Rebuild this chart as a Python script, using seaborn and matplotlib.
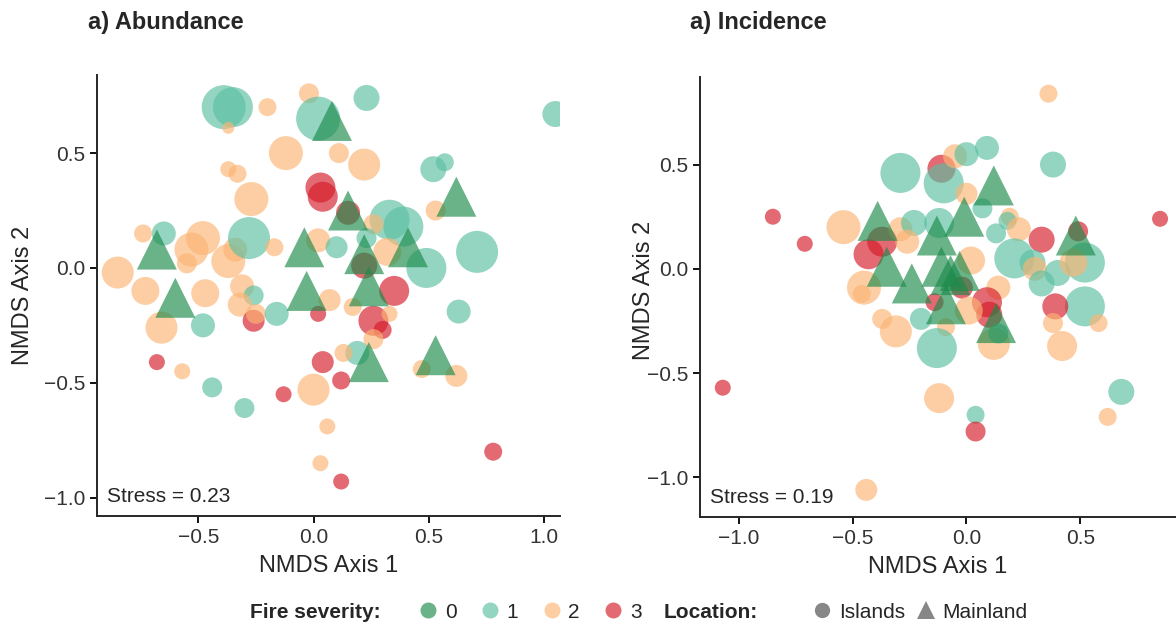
import matplotlib
matplotlib.use("Agg")
import matplotlib.pyplot as plt
import numpy as np
import pandas as pd
import seaborn as sns
from matplotlib.lines import Line2D

# ---------------- Abundance-based NMDS site scores ----------------
abund_x = [-0.39, -0.35, -0.37, -0.02, -0.20, 0.02, 0.23, 1.05, -0.12, 0.11,
           0.22, -0.37, -0.33, -0.27, 0.03, 0.04, 0.15, 0.52, 0.57, 0.53,
           -0.65, -0.74, -0.48, -0.53, -0.55, -0.37, -0.34, -0.28, -0.17, 0.02,
           0.10, 0.33, 0.39, 0.26, 0.23, 0.32, 0.22, 0.49, 0.71, 0.35,
           -0.85, -0.73, -0.47, -0.31, -0.26, -0.32, -0.26, -0.25, -0.66, -0.48,
           -0.16, 0.07, 0.02, 0.26, 0.30, 0.33, 0.17, 0.26, 0.19, 0.13,
           0.12, 0.04, 0.00, 0.63, 0.47, 0.62, 0.78, 0.12, 0.06, 0.03,
           -0.68, -0.57, -0.44, -0.30, -0.13,
           0.08, 0.62, 0.15, -0.68, -0.04, 0.22, 0.41, -0.60, -0.03, 0.24,
           0.24, 0.53]
abund_y = [0.70, 0.70, 0.61, 0.76, 0.70, 0.65, 0.74, 0.67, 0.50, 0.50,
           0.45, 0.43, 0.41, 0.30, 0.35, 0.31, 0.24, 0.43, 0.46, 0.25,
           0.15, 0.15, 0.13, 0.08, 0.02, 0.03, 0.08, 0.13, 0.09, 0.12,
           0.09, 0.21, 0.18, 0.19, 0.13, 0.07, 0.01, 0.00, 0.07, -0.10,
           -0.02, -0.10, -0.11, -0.08, -0.12, -0.16, -0.23, -0.20, -0.26, -0.25,
           -0.20, -0.14, -0.20, -0.23, -0.27, -0.20, -0.17, -0.31, -0.37, -0.37,
           -0.49, -0.41, -0.53, -0.19, -0.44, -0.47, -0.80, -0.93, -0.69, -0.85,
           -0.41, -0.45, -0.52, -0.61, -0.55,
           0.64, 0.31, 0.25, 0.08, 0.09, 0.06, 0.09, -0.13, -0.10, -0.08,
           -0.41, -0.38]
abund_sev = [1, 1, 2, 2, 2, 1, 1, 1, 2, 2,
             2, 2, 2, 2, 3, 3, 3, 1, 1, 2,
             1, 2, 2, 2, 2, 2, 2, 1, 2, 2,
             1, 1, 1, 2, 1, 2, 3, 1, 1, 3,
             2, 2, 2, 2, 1, 2, 3, 2, 2, 1,
             1, 2, 3, 3, 3, 2, 2, 2, 1, 2,
             3, 3, 2, 1, 2, 2, 3, 3, 2, 2,
             3, 2, 1, 1, 3,
             0, 0, 0, 0, 0, 0, 0, 0, 0, 0,
             0, 0]
abund_wt = [22, 20, 6, 10, 9, 22, 13, 13, 17, 10,
            16, 8, 9, 17, 15, 15, 12, 13, 9, 10,
            12, 9, 17, 17, 10, 17, 12, 21, 9, 12,
            11, 20, 20, 10, 10, 14, 13, 20, 21, 15,
            16, 14, 14, 12, 10, 12, 11, 10, 16, 12,
            12, 11, 8, 15, 9, 8, 9, 10, 12, 9,
            9, 11, 16, 12, 9, 11, 9, 8, 8, 8,
            8, 8, 10, 10, 8,
            20, 20, 20, 20, 20, 20, 20, 20, 20, 20,
            20, 20]
abund_loc = ["Islands"] * 75 + ["Mainland"] * 12

# ---------------- Incidence-based NMDS site scores ----------------
incid_x = [0.36, -0.29, -0.11, -0.10, -0.05, 0.00, 0.09, 0.38, -0.85, -0.71,
           -0.54, -0.37, -0.43, -0.29, -0.23, -0.12, -0.26, 0.00, 0.07, 0.19,
           0.18, 0.13, 0.23, 0.33, 0.49, 0.21, 0.29, 0.30, 0.40, 0.52,
           0.47, 0.33, 0.52, 0.39, 0.38, 0.58, 0.42, 0.02, 0.14, 0.09,
           0.10, -0.02, -0.14, 0.01, 0.12, 0.14, -0.09, -0.13, -0.20, -0.37,
           -0.31, -0.45, -0.46, -0.12, 0.04, 0.04, 0.68, 0.62, -1.07, -0.44,
           0.85,
           -0.39, -0.01, 0.12, -0.13, -0.35, -0.24, -0.11, -0.03, -0.07, -0.09,
           0.13, 0.48]
incid_y = [0.84, 0.46, 0.48, 0.41, 0.54, 0.55, 0.58, 0.50, 0.25, 0.12,
           0.20, 0.13, 0.07, 0.19, 0.22, 0.22, 0.13, 0.36, 0.29, 0.25,
           0.23, 0.17, 0.19, 0.14, 0.18, 0.05, 0.03, 0.00, -0.02, 0.03,
           0.03, -0.07, -0.18, -0.18, -0.26, -0.26, -0.37, 0.04, -0.09, -0.16,
           -0.22, -0.09, -0.16, -0.20, -0.36, -0.31, -0.28, -0.38, -0.24, -0.24,
           -0.30, -0.09, -0.12, -0.62, -0.70, -0.78, -0.59, -0.71, -0.57, -1.06,
           0.24,
           0.23, 0.25, 0.40, 0.16, 0.01, -0.07, 0.01, -0.01, -0.03, -0.17,
           -0.26, 0.16]
incid_sev = [2, 1, 3, 1, 2, 1, 1, 1, 3, 3,
             2, 3, 3, 2, 1, 1, 2, 2, 1, 2,
             1, 1, 2, 3, 3, 1, 1, 2, 1, 1,
             2, 1, 1, 3, 2, 2, 2, 2, 2, 3,
             3, 3, 3, 2, 2, 1, 2, 1, 1, 2,
             2, 2, 2, 2, 1, 3, 1, 2, 3, 2,
             3,
             0, 0, 0, 0, 0, 0, 0, 0, 0, 0,
             0, 0]
incid_wt = [9, 20, 14, 20, 12, 12, 12, 13, 8, 8,
            17, 15, 15, 12, 13, 15, 12, 11, 10, 9,
            9, 10, 12, 13, 10, 20, 13, 12, 13, 20,
            14, 13, 20, 13, 10, 9, 15, 14, 12, 15,
            13, 11, 9, 14, 16, 10, 9, 20, 11, 10,
            16, 17, 9, 15, 9, 10, 13, 9, 8, 11,
            8,
            20, 20, 20, 20, 20, 20, 20, 20, 20, 20,
            20, 20]
incid_loc = ["Islands"] * 61 + ["Mainland"] * 12

severity_levels = ["0", "1", "2", "3"]
severity_colors = {"0": "#1b8a4a", "1": "#5bbfa2", "2": "#fcb473", "3": "#d41a28"}
location_markers = {"Islands": "o", "Mainland": "^"}
ALPHA = 0.65

sns.set_theme(style="ticks")
plt.rcParams["font.family"] = ["Liberation Sans", "DejaVu Sans"]
plt.rcParams["axes.linewidth"] = 1.4

fig = plt.figure(figsize=(11.76, 6.33), dpi=100)
W, H = 1176, 633


def px_axes(x0, y0, x1, y1):
    return fig.add_axes([x0 / W, 1 - y1 / H, (x1 - x0) / W, (y1 - y0) / H])


ax1 = px_axes(97, 75, 560, 516)
ax2 = px_axes(700, 77, 1176, 517)


def ordination(ax, x, y, sev, loc, wt, stress, xlim, ylim, xticks, yticks, ylab_xy):
    df = pd.DataFrame({"x": x, "y": y, "sev": [str(s) for s in sev],
                       "loc": loc, "wt": wt})
    sizes = {w: (2 * w * 0.72) ** 2 for w in sorted(set(wt))}
    sns.scatterplot(data=df, x="x", y="y", hue="sev", style="loc", size="wt",
                    palette=severity_colors, hue_order=severity_levels,
                    markers=location_markers, sizes=sizes, alpha=ALPHA,
                    linewidth=0, legend=False, ax=ax)
    ax.set_xlim(*xlim)
    ax.set_ylim(*ylim)
    ax.set_xticks(xticks)
    ax.set_yticks(yticks)
    sns.despine(ax=ax)
    ax.tick_params(axis="both", labelsize=15, length=5, width=1.4,
                   colors="#111111", labelcolor="#333333")
    ax.set_xlabel("NMDS Axis 1", fontsize=17, labelpad=6)
    ax.set_ylabel("NMDS Axis 2", fontsize=17)
    ax.yaxis.set_label_coords(*ylab_xy)
    ax.text(0.022, 0.045, f"Stress = {stress}", transform=ax.transAxes,
            fontsize=15, va="center", ha="left")


ordination(ax1, abund_x, abund_y, abund_sev, abund_loc, abund_wt, "0.23",
           (-0.94, 1.07), (-1.08, 0.84), [-0.5, 0.0, 0.5, 1.0],
           [-1.0, -0.5, 0.0, 0.5], (-0.135, 0.50))
ordination(ax2, incid_x, incid_y, incid_sev, incid_loc, incid_wt, "0.19",
           (-1.17, 0.92), (-1.19, 0.92), [-1.0, -0.5, 0.0, 0.5],
           [-1.0, -0.5, 0.0, 0.5], (-0.094, 0.515))

fig.text(88 / W, 1 - 22 / H, "a) Abundance", fontsize=17, fontweight="bold",
         ha="left", va="center")
fig.text(690 / W, 1 - 22 / H, "a) Incidence", fontsize=17, fontweight="bold",
         ha="left", va="center")

# ---------------- shared legend along the bottom ----------------
ly = 1 - 612 / H
fig.text(250 / W, ly, "Fire severity:", fontsize=15, fontweight="bold",
         ha="left", va="center")
sev_handles = [Line2D([], [], marker="o", linestyle="none", markersize=11.5,
                      markerfacecolor=severity_colors[s], markeredgewidth=0,
                      alpha=ALPHA) for s in severity_levels]
fig.legend(sev_handles, severity_levels, loc="center left",
           bbox_to_anchor=(420 / W, ly), ncol=4, frameon=False,
           fontsize=15, handlelength=0.8, handletextpad=0.4,
           columnspacing=1.2, borderpad=0, borderaxespad=0)
fig.text(664 / W, ly, "Location:", fontsize=15, fontweight="bold",
         ha="left", va="center")
loc_handles = [Line2D([], [], marker="o", linestyle="none", markersize=11,
                      markerfacecolor="#555555", markeredgewidth=0, alpha=0.7),
               Line2D([], [], marker="^", linestyle="none", markersize=13,
                      markerfacecolor="#555555", markeredgewidth=0, alpha=0.7)]
fig.legend(loc_handles, ["Islands", "Mainland"], loc="center left",
           bbox_to_anchor=(814 / W, ly), ncol=2, frameon=False, fontsize=15,
           handlelength=0.8, handletextpad=0.4, columnspacing=0.6,
           borderpad=0, borderaxespad=0)

fig.savefig("out.png", dpi=100)
